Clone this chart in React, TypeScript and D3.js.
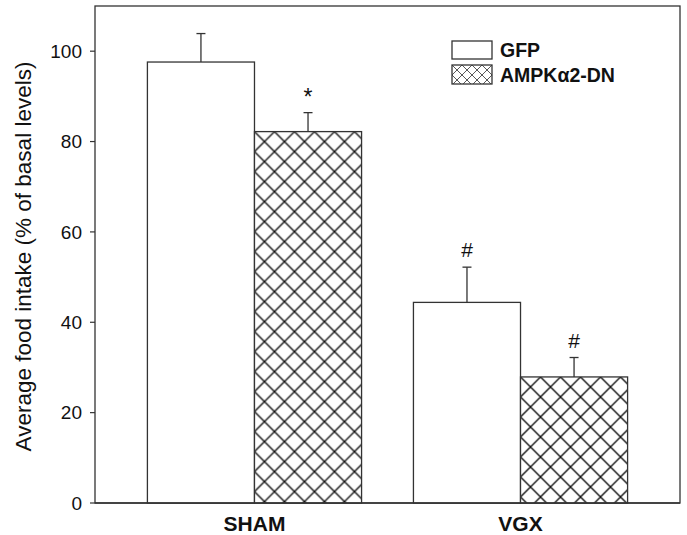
import React from "react";
import * as d3 from "d3";

const groups = ["SHAM", "VGX"];
const series = ["GFP", "AMPKα2-DN"];
const meanGFP = [97.6, 44.4];
const errGFP = [6.3, 7.8];
const meanAMPK = [82.2, 27.9];
const errAMPK = [4.2, 4.3];
const marksGFP = ["", "#"];
const marksAMPK = ["*", "#"];
const yTicks = [0, 20, 40, 60, 80, 100];
const yTitle = "Average food intake (% of basal levels)";

const W = 687;
const H = 535;
const M = { left: 95, right: 7, top: 6, bottom: 32 };
const FONT = "'Liberation Sans', Arial, Helvetica, sans-serif";

export default function App() {
  const x0 = d3
    .scaleBand<string>()
    .domain(groups)
    .range([M.left, W - M.right])
    .paddingInner(0.195)
    .paddingOuter(0.197);
  const x1 = d3.scaleBand<string>().domain(series).range([0, x0.bandwidth()]).padding(0);
  const y = d3.scaleLinear().domain([0, 110]).range([H - M.bottom, M.top]);

  const bars = groups.flatMap((g, i) => [
    { g, s: series[0], v: meanGFP[i], e: errGFP[i], m: marksGFP[i], hatch: false, i },
    { g, s: series[1], v: meanAMPK[i], e: errAMPK[i], m: marksAMPK[i], hatch: true, i },
  ]);

  const stroke = "#333";
  const bw = x1.bandwidth();

  return (
    <svg
      width={W}
      height={H}
      style={{ position: "absolute", left: 0, top: 0, background: "#fff" }}
      fontFamily={FONT}
    >
      <defs>
        {bars
          .filter((b) => b.hatch)
          .map((b) => {
            const bx = (x0(b.g) as number) + (x1(b.s) as number);
            const by = y(b.v);
            return (
              <pattern
                key={"p" + b.g}
                id={"hatch-" + b.g}
                patternUnits="userSpaceOnUse"
                x={bx}
                y={by}
                width={20}
                height={20}
              >
                <rect width={20} height={20} fill="#fff" />
                <path d="M-5,-5 L25,25 M-5,25 L25,-5 M15,-5 L25,5 M-5,15 L5,25 M5,-5 L-5,5 M25,15 L15,25" stroke="#111" strokeWidth={1.4} />
              </pattern>
            );
          })}
        <pattern id="hatch-legend" patternUnits="userSpaceOnUse" x={452} y={65} width={10} height={10}>
          <rect width={10} height={10} fill="#fff" />
          <path d="M-3,-3 L13,13 M-3,13 L13,-3 M7,-3 L13,3 M-3,7 L3,13 M3,-3 L-3,3 M13,7 L7,13" stroke="#444" strokeWidth={0.9} />
        </pattern>
      </defs>

      {/* frame */}
      <rect
        x={M.left}
        y={M.top}
        width={W - M.right - M.left}
        height={y(0) - M.top}
        fill="none"
        stroke={stroke}
        strokeWidth={1.3}
      />

      {/* bars */}
      {bars.map((b) => {
        const bx = (x0(b.g) as number) + (x1(b.s) as number);
        const cx = bx + bw / 2;
        const top = y(b.v);
        const et = y(b.v + b.e);
        return (
          <g key={b.g + b.s}>
            <rect
              x={bx}
              y={top}
              width={bw}
              height={y(0) - top}
              fill={b.hatch ? `url(#hatch-${b.g})` : "#fff"}
              stroke={stroke}
              strokeWidth={1.3}
            />
            <line x1={cx} x2={cx} y1={top} y2={et} stroke={stroke} strokeWidth={1.3} />
            <line x1={cx - 4.5} x2={cx + 4.5} y1={et} y2={et} stroke={stroke} strokeWidth={1.3} />
            {b.m && (
              <text
                x={cx}
                y={b.m === "*" ? et - 8 : et - 10}
                textAnchor="middle"
                fontSize={b.m === "*" ? 23 : 21}
                fill="#111"
              >
                {b.m}
              </text>
            )}
          </g>
        );
      })}

      {/* x axis baseline */}
      <line x1={M.left} x2={W - M.right} y1={y(0)} y2={y(0)} stroke={stroke} strokeWidth={1.5} />

      {/* y ticks */}
      {yTicks.map((t) => (
        <g key={t}>
          <line x1={M.left - 5} x2={M.left} y1={y(t)} y2={y(t)} stroke={stroke} strokeWidth={1.2} />
          <text x={M.left - 13} y={y(t)} dy="0.36em" textAnchor="end" fontSize={19} fill="#111">
            {t}
          </text>
        </g>
      ))}

      {/* category labels */}
      {groups.map((g) => (
        <text
          key={g}
          x={(x0(g) as number) + x0.bandwidth() / 2}
          y={531}
          textAnchor="middle"
          fontSize={21}
          fontWeight="bold"
          fill="#111"
        >
          {g}
        </text>
      ))}

      {/* y title */}
      <text
        transform={`translate(31,${(y(0) + M.top) / 2 + 2}) rotate(-90)`}
        textAnchor="middle"
        fontSize={22.5}
        fill="#111"
      >
        {yTitle}
      </text>

      {/* legend */}
      <g>
        <rect x={452} y={41} width={40} height={18} fill="#fff" stroke={stroke} strokeWidth={1.3} />
        <text x={500} y={57} fontSize={19.5} fontWeight="bold" fill="#111">
          {series[0]}
        </text>
        <rect x={452} y={65} width={40} height={19} fill="url(#hatch-legend)" stroke={stroke} strokeWidth={1.3} />
        <text x={500} y={82} fontSize={19.5} fontWeight="bold" fill="#111">
          {series[1]}
        </text>
      </g>
    </svg>
  );
}
